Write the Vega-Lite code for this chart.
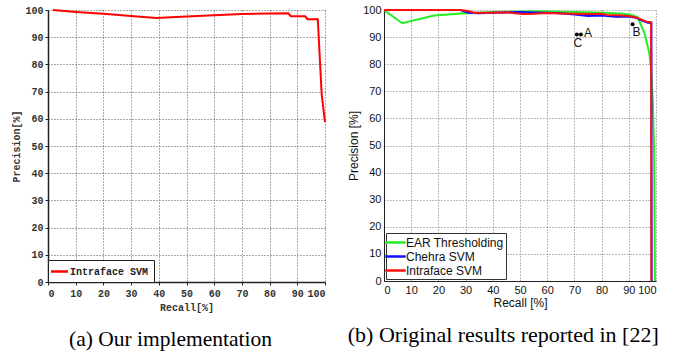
{
  "$schema": "https://vega.github.io/schema/vega-lite/v6.json",
  "background": "white",
  "padding": {"left": 11, "top": 4, "right": 5, "bottom": 0},
  "spacing": 18,
  "config": {"view": {"stroke": null}},
  "resolve": {"scale": {"color": "independent"}, "legend": {"color": "independent"}},
  "datasets": {
    "ours": [
      {"i": 1, "series": "Intraface SVM", "recall": 1.8, "precision": 100},
      {"i": 2, "series": "Intraface SVM", "recall": 10, "precision": 99.3},
      {"i": 3, "series": "Intraface SVM", "recall": 20, "precision": 98.6},
      {"i": 4, "series": "Intraface SVM", "recall": 30, "precision": 97.8},
      {"i": 5, "series": "Intraface SVM", "recall": 39, "precision": 97.1},
      {"i": 6, "series": "Intraface SVM", "recall": 50, "precision": 97.6},
      {"i": 7, "series": "Intraface SVM", "recall": 60, "precision": 98.1},
      {"i": 8, "series": "Intraface SVM", "recall": 70, "precision": 98.5},
      {"i": 9, "series": "Intraface SVM", "recall": 80, "precision": 98.7},
      {"i": 10, "series": "Intraface SVM", "recall": 86.7, "precision": 98.8},
      {"i": 11, "series": "Intraface SVM", "recall": 87.7, "precision": 97.7},
      {"i": 12, "series": "Intraface SVM", "recall": 92.8, "precision": 97.7},
      {"i": 13, "series": "Intraface SVM", "recall": 93.7, "precision": 96.6},
      {"i": 14, "series": "Intraface SVM", "recall": 97.4, "precision": 96.6},
      {"i": 15, "series": "Intraface SVM", "recall": 98.8, "precision": 69},
      {"i": 16, "series": "Intraface SVM", "recall": 100, "precision": 58.8}
    ],
    "orig": [
      {"i": 1, "series": "EAR Thresholding", "recall": 0, "precision": 100},
      {"i": 2, "series": "EAR Thresholding", "recall": 6.7, "precision": 95.1},
      {"i": 3, "series": "EAR Thresholding", "recall": 18.4, "precision": 98.0},
      {"i": 4, "series": "EAR Thresholding", "recall": 29.4, "precision": 98.8},
      {"i": 5, "series": "EAR Thresholding", "recall": 40.5, "precision": 99.3},
      {"i": 6, "series": "EAR Thresholding", "recall": 56, "precision": 99.5},
      {"i": 7, "series": "EAR Thresholding", "recall": 70, "precision": 99.3},
      {"i": 8, "series": "EAR Thresholding", "recall": 81, "precision": 99.0},
      {"i": 9, "series": "EAR Thresholding", "recall": 88, "precision": 98.6},
      {"i": 10, "series": "EAR Thresholding", "recall": 91, "precision": 98.2},
      {"i": 11, "series": "EAR Thresholding", "recall": 93.2, "precision": 97.4},
      {"i": 12, "series": "EAR Thresholding", "recall": 95.7, "precision": 91.7},
      {"i": 13, "series": "EAR Thresholding", "recall": 97.5, "precision": 84.3},
      {"i": 14, "series": "EAR Thresholding", "recall": 98.1, "precision": 79.3},
      {"i": 15, "series": "EAR Thresholding", "recall": 98.8, "precision": 67},
      {"i": 16, "series": "EAR Thresholding", "recall": 99.3, "precision": 48},
      {"i": 17, "series": "EAR Thresholding", "recall": 99.5, "precision": 20},
      {"i": 18, "series": "EAR Thresholding", "recall": 99.6, "precision": 0},
      {"i": 1, "series": "Chehra SVM", "recall": 0, "precision": 100},
      {"i": 2, "series": "Chehra SVM", "recall": 28, "precision": 100},
      {"i": 3, "series": "Chehra SVM", "recall": 31, "precision": 99},
      {"i": 4, "series": "Chehra SVM", "recall": 35, "precision": 98.8},
      {"i": 5, "series": "Chehra SVM", "recall": 40, "precision": 99},
      {"i": 6, "series": "Chehra SVM", "recall": 45, "precision": 99.1},
      {"i": 7, "series": "Chehra SVM", "recall": 50, "precision": 99.3},
      {"i": 8, "series": "Chehra SVM", "recall": 55, "precision": 99.1},
      {"i": 9, "series": "Chehra SVM", "recall": 60, "precision": 99},
      {"i": 10, "series": "Chehra SVM", "recall": 65, "precision": 98.8},
      {"i": 11, "series": "Chehra SVM", "recall": 70, "precision": 98.3},
      {"i": 12, "series": "Chehra SVM", "recall": 75, "precision": 97.8},
      {"i": 13, "series": "Chehra SVM", "recall": 80, "precision": 98},
      {"i": 14, "series": "Chehra SVM", "recall": 85, "precision": 97.5},
      {"i": 15, "series": "Chehra SVM", "recall": 90, "precision": 97.6},
      {"i": 16, "series": "Chehra SVM", "recall": 93, "precision": 97},
      {"i": 17, "series": "Chehra SVM", "recall": 95, "precision": 96},
      {"i": 18, "series": "Chehra SVM", "recall": 97, "precision": 95.3},
      {"i": 19, "series": "Chehra SVM", "recall": 98.3, "precision": 95.2},
      {"i": 20, "series": "Chehra SVM", "recall": 98.4, "precision": 0},
      {"i": 1, "series": "Intraface SVM", "recall": 0, "precision": 100},
      {"i": 2, "series": "Intraface SVM", "recall": 28, "precision": 100},
      {"i": 3, "series": "Intraface SVM", "recall": 31, "precision": 99.6},
      {"i": 4, "series": "Intraface SVM", "recall": 33, "precision": 99},
      {"i": 5, "series": "Intraface SVM", "recall": 40, "precision": 99},
      {"i": 6, "series": "Intraface SVM", "recall": 45, "precision": 99.2},
      {"i": 7, "series": "Intraface SVM", "recall": 48, "precision": 98.8},
      {"i": 8, "series": "Intraface SVM", "recall": 51, "precision": 98.5},
      {"i": 9, "series": "Intraface SVM", "recall": 55, "precision": 98.6},
      {"i": 10, "series": "Intraface SVM", "recall": 60, "precision": 98.9},
      {"i": 11, "series": "Intraface SVM", "recall": 65, "precision": 98.7},
      {"i": 12, "series": "Intraface SVM", "recall": 70, "precision": 98.6},
      {"i": 13, "series": "Intraface SVM", "recall": 75, "precision": 98.5},
      {"i": 14, "series": "Intraface SVM", "recall": 80, "precision": 98.6},
      {"i": 15, "series": "Intraface SVM", "recall": 82, "precision": 98.2},
      {"i": 16, "series": "Intraface SVM", "recall": 86, "precision": 98.1},
      {"i": 17, "series": "Intraface SVM", "recall": 90, "precision": 97.8},
      {"i": 18, "series": "Intraface SVM", "recall": 93, "precision": 97.2},
      {"i": 19, "series": "Intraface SVM", "recall": 95, "precision": 96.3},
      {"i": 20, "series": "Intraface SVM", "recall": 96.5, "precision": 95.7},
      {"i": 21, "series": "Intraface SVM", "recall": 98.2, "precision": 95.5},
      {"i": 22, "series": "Intraface SVM", "recall": 98.3, "precision": 0}
    ],
    "pts": [
      {"label": "C", "recall": 70.9, "precision": 91.0},
      {"label": "A", "recall": 72.4, "precision": 91.0},
      {"label": "B", "recall": 91.4, "precision": 94.7}
    ]
  },
  "hconcat": [
    {
      "width": 277,
      "height": 272,
      "title": {"text": "(a) Our implementation", "orient": "bottom", "font": "Liberation Serif", "fontSize": 21.5, "fontWeight": "normal", "anchor": "middle", "frame": "bounds", "offset": 17, "color": "black"},
      "data": {"name": "ours"},
      "mark": {"type": "line", "color": "#ff0000", "strokeWidth": 2},
      "encoding": {
        "x": {"field": "recall", "type": "quantitative", "scale": {"domain": [0, 100], "nice": false, "zero": false},
          "axis": {"title": "Recall[%]", "values": [0,10,20,30,40,50,60,70,80,90,100], "labelOverlap": false, "labelFont": "Liberation Mono", "labelFontWeight": "bold", "labelFontSize": 10, "labelColor": "#333", "labelPadding": 3,
            "titleFont": "Liberation Mono", "titleFontWeight": "bold", "titleFontSize": 10, "titleColor": "#333", "titlePadding": 4,
            "domainColor": "#222", "domainWidth": 1.5, "tickColor": "#222", "tickSize": 3, "grid": true, "gridColor": "#555", "gridDash": [1, 2], "gridOpacity": 1, "gridWidth": 1}},
        "y": {"field": "precision", "type": "quantitative", "scale": {"domain": [0, 100], "nice": false},
          "axis": {"title": "Precision[%]", "values": [0,10,20,30,40,50,60,70,80,90,100], "labelOverlap": false, "labelFont": "Liberation Mono", "labelFontWeight": "bold", "labelFontSize": 10, "labelColor": "#333", "labelPadding": 2,
            "titleFont": "Liberation Mono", "titleFontWeight": "bold", "titleFontSize": 10, "titleColor": "#333", "titlePadding": 3,
            "domainColor": "#222", "domainWidth": 1.5, "tickColor": "#222", "tickSize": 3, "grid": true, "gridColor": "#555", "gridDash": [1, 2], "gridOpacity": 1, "gridWidth": 1}},
        "order": {"field": "i", "type": "quantitative"},
        "color": {"field": "series", "type": "nominal", "scale": {"domain": ["Intraface SVM"], "range": ["#ff0000"]},
          "legend": {"title": null, "orient": "bottom-left", "offset": 0, "strokeColor": "#222", "fillColor": "white", "padding": 5, "labelFont": "Liberation Mono", "labelFontSize": 10, "labelFontWeight": "bold", "labelColor": "#222", "symbolType": "M-1.7,0H1.7", "symbolStrokeWidth": 2.5, "symbolSize": 100, "labelOffset": 4}}
      }
    },
    {
      "width": 272,
      "height": 271,
      "title": {"text": "(b) Original results reported in [22]", "orient": "bottom", "font": "Liberation Serif", "fontSize": 22, "fontWeight": "normal", "anchor": "middle", "frame": "bounds", "offset": 17, "color": "black"},
      "encoding": {
        "x": {"field": "recall", "type": "quantitative", "scale": {"domain": [0, 100], "nice": false, "zero": false},
          "axis": {"title": "Recall [%]", "values": [0,10,20,30,40,50,60,70,80,90,100], "labelOverlap": false, "labelFont": "Liberation Sans", "labelFontSize": 11, "labelColor": "#111", "labelPadding": 3,
            "titleFont": "Liberation Sans", "titleFontWeight": "normal", "titleFontSize": 12, "titleColor": "#111", "titlePadding": 2,
            "domainColor": "#222", "domainWidth": 1, "tickSize": 0, "grid": true, "gridColor": "#777", "gridDash": [1, 2], "gridOpacity": 1, "gridWidth": 1}},
        "y": {"field": "precision", "type": "quantitative", "scale": {"domain": [0, 100], "nice": false},
          "axis": {"title": "Precision [%]", "values": [0,10,20,30,40,50,60,70,80,90,100], "labelOverlap": false, "labelFont": "Liberation Sans", "labelFontSize": 11, "labelColor": "#111", "labelPadding": 3,
            "titleFont": "Liberation Sans", "titleFontWeight": "normal", "titleFontSize": 12, "titleColor": "#111", "titlePadding": 2,
            "domainColor": "#222", "domainWidth": 1, "tickSize": 0, "grid": true, "gridColor": "#777", "gridDash": [1, 2], "gridOpacity": 1, "gridWidth": 1}}
      },
      "layer": [
        {
          "data": {"name": "orig"},
          "mark": {"type": "line", "strokeWidth": 2},
          "encoding": {
            "order": {"field": "i", "type": "quantitative"},
            "color": {"field": "series", "type": "nominal", "sort": ["EAR Thresholding", "Chehra SVM", "Intraface SVM"],
              "scale": {"domain": ["EAR Thresholding", "Chehra SVM", "Intraface SVM"], "range": ["#22ee22", "#1010ff", "#ff1010"]},
              "legend": {"title": null, "orient": "bottom-left", "offset": 2, "strokeColor": "#333", "fillColor": "white", "padding": 2, "rowPadding": 0, "labelFont": "Liberation Sans", "labelFontSize": 12, "labelColor": "#111", "symbolType": "M-1.7,0H1.7", "symbolStrokeWidth": 2.5, "symbolSize": 144, "labelOffset": 3}}
          }
        },
        {
          "data": {"name": "pts"},
          "mark": {"type": "point", "filled": true, "color": "black", "size": 16, "opacity": 1}
        },
        {
          "data": {"name": "pts"},
          "transform": [{"filter": "datum.label === 'A'"}],
          "mark": {"type": "text", "font": "Liberation Sans", "fontSize": 12, "color": "#111", "align": "left", "baseline": "middle", "dx": 3, "dy": -1},
          "encoding": {"text": {"field": "label"}}
        },
        {
          "data": {"name": "pts"},
          "transform": [{"filter": "datum.label === 'C'"}],
          "mark": {"type": "text", "font": "Liberation Sans", "fontSize": 12, "color": "#111", "align": "center", "baseline": "middle", "dx": 1, "dy": 9},
          "encoding": {"text": {"field": "label"}}
        },
        {
          "data": {"name": "pts"},
          "transform": [{"filter": "datum.label === 'B'"}],
          "mark": {"type": "text", "font": "Liberation Sans", "fontSize": 12, "color": "#111", "align": "center", "baseline": "middle", "dx": 4, "dy": 8},
          "encoding": {"text": {"field": "label"}}
        }
      ]
    }
  ]
}
